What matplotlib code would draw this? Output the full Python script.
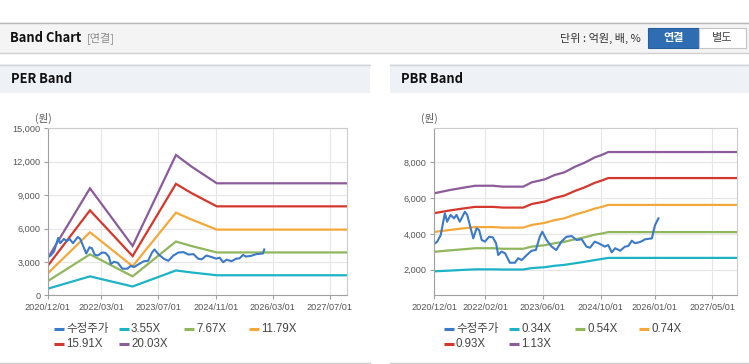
import matplotlib
matplotlib.use("Agg")
import matplotlib.pyplot as plt
import matplotlib.dates as mdates
from matplotlib.patches import Rectangle
from matplotlib.lines import Line2D
from matplotlib.ticker import FuncFormatter
import pandas as pd

plt.rcParams['font.family'] = ['Liberation Sans', 'Noto Sans CJK KR']

W, H = 749, 364

# adjusted share price (same series on both charts)
price_dates = ['2020-12-01', '2020-12-26', '2021-01-24', '2021-02-28', '2021-03-19', '2021-04-17',
               '2021-05-15', '2021-06-06', '2021-07-04', '2021-08-15', '2021-09-04', '2021-09-26',
               '2021-10-25', '2021-11-22', '2021-12-13', '2022-01-04', '2022-01-31', '2022-03-08',
               '2022-04-07', '2022-05-05', '2022-05-23', '2022-06-20', '2022-07-20', '2022-08-29',
               '2022-10-11', '2022-11-07', '2022-12-07', '2023-01-19', '2023-02-28', '2023-04-05',
               '2023-05-08', '2023-05-29', '2023-07-04', '2023-08-16', '2023-09-24', '2023-11-06',
               '2023-12-19', '2024-01-31', '2024-03-13', '2024-04-25', '2024-06-04', '2024-07-04',
               '2024-08-13', '2024-09-25', '2024-11-06', '2024-12-04', '2025-01-03', '2025-02-01',
               '2025-03-15', '2025-04-24', '2025-05-22', '2025-06-21', '2025-07-18', '2025-08-31',
               '2025-10-12', '2025-12-07', '2025-12-19', '2026-01-03', '2026-01-31']
price = [3440, 3570, 3940, 5150, 4680, 5060, 4870, 5060, 4680, 5240, 5060, 4500,
         3750, 4310, 4220, 3660, 3570, 3840, 3810, 3480, 2820, 3010, 2920, 2390,
         2390, 2640, 2540, 2820, 3060, 3100, 3840, 4120, 3660, 3290, 3100, 3570,
         3840, 3880, 3660, 3700, 3290, 3230, 3570, 3440, 3290, 3380, 2970, 3200,
         3060, 3290, 3320, 3620, 3480, 3550, 3700, 3750, 4120, 4500, 4870]
per_price_count = 57

# PER band
per_dates = ['2020-12-01', '2021-11-26', '2022-11-24', '2023-11-28', '2024-04-10', '2024-11-10', '2027-11-26']
per_labels = ['3.55X', '7.67X', '11.79X', '15.91X', '20.03X']
per_355 = [590, 1700, 790, 2230, 2050, 1800, 1800]
per_767 = [1270, 3680, 1700, 4830, 4420, 3850, 3850]
per_1179 = [1960, 5660, 2610, 7420, 6800, 5900, 5900]
per_1591 = [2640, 7630, 3520, 10010, 9170, 7990, 7990]
per_2003 = [3320, 9610, 4430, 12600, 11550, 10060, 10060]
per_ticks = ['2020-12-01', '2022-03-01', '2023-07-01', '2024-11-01', '2026-03-01', '2027-07-01']

# PBR band
pbr_dates = ['2020-12-01', '2021-04-10', '2021-08-01', '2021-11-10', '2022-04-10', '2022-07-01',
             '2022-12-20', '2023-03-01', '2023-06-20', '2023-09-10', '2023-12-01', '2024-02-28',
             '2024-05-20', '2024-08-15', '2024-10-10', '2024-12-05', '2027-11-26']
pbr_labels = ['0.34X', '0.54X', '0.74X', '0.93X', '1.13X']
pbr_034 = [1910, 1950, 1990, 2020, 2020, 2010, 2010, 2090, 2140, 2220, 2270, 2360, 2440, 2540, 2600, 2660, 2660]
pbr_054 = [3000, 3080, 3140, 3200, 3200, 3170, 3170, 3290, 3370, 3480, 3560, 3700, 3810, 3960, 4020, 4100, 4100]
pbr_074 = [4110, 4220, 4310, 4380, 4380, 4350, 4350, 4500, 4620, 4770, 4870, 5080, 5230, 5420, 5510, 5620, 5620]
pbr_093 = [5160, 5310, 5420, 5510, 5510, 5470, 5470, 5670, 5810, 6010, 6140, 6400, 6600, 6860, 6980, 7120, 7120]
pbr_113 = [6270, 6450, 6580, 6690, 6690, 6640, 6640, 6880, 7050, 7290, 7440, 7750, 7980, 8280, 8410, 8575, 8575]
pbr_ticks = ['2020-12-01', '2022-02-01', '2023-06-01', '2024-10-01', '2026-01-01', '2027-05-01']

price_color = '#3b79c9'
band_colors = ['#1db3c7', '#90b75c', '#f5a83a', '#d6372c', '#8c5b9a']
x_start, x_end = pd.Timestamp('2020-12-01'), pd.Timestamp('2027-11-26')


def fx(x):
    return x / W


def fy(y):
    return 1 - y / H


def rect(fig, x0, y0, x1, y1, **kw):
    fig.add_artist(Rectangle((fx(x0), fy(y1)), (x1 - x0) / W, (y1 - y0) / H,
                             transform=fig.transFigure, **kw))


def hline(fig, x0, x1, y, color, lw=1.0):
    fig.add_artist(Line2D([fx(x0), fx(x1)], [fy(y), fy(y)], transform=fig.transFigure, color=color, lw=lw))


fig = plt.figure(figsize=(W / 100, H / 100), dpi=100)
fig.patch.set_facecolor('white')

# top header
rect(fig, 0, 22, W, 53, facecolor='#f4f4f4', edgecolor='none')
hline(fig, 0, W, 22.5, '#b8b8b8')
hline(fig, 0, W, 53, '#d0d0d0')
fig.text(fx(10), fy(38), 'Band Chart', fontsize=9.3, fontweight='bold', color='#111111',
         family=['Noto Sans CJK KR'], va='center')
fig.text(fx(87), fy(38), '[연결]', fontsize=8, color='#8a8a8a', family=['Noto Sans CJK KR'], va='center')
fig.text(fx(641), fy(38), '단위 : 억원, 배, %', fontsize=8, color='#333333',
         family=['Noto Sans CJK KR'], va='center', ha='right')
rect(fig, 648, 28, 699, 48, facecolor='#2f6db3', edgecolor='#285f9e', lw=0.8)
fig.text(fx(673.5), fy(38), '연결', fontsize=8, color='white', fontweight='bold',
         family=['Noto Sans CJK KR'], va='center', ha='center')
rect(fig, 699, 28, 746, 48, facecolor='white', edgecolor='#c4c4c4', lw=0.8)
fig.text(fx(722.5), fy(38), '별도', fontsize=8, color='#444444',
         family=['Noto Sans CJK KR'], va='center', ha='center')


def panel(fig, x0, x1, title, tx):
    rect(fig, x0, 64, x1, 93, facecolor='#eef2f7', edgecolor='none')
    hline(fig, x0, x1, 64.5, '#d4d4d4')
    hline(fig, x0, x1, 363, '#cfcfcf')
    fig.text(fx(tx), fy(79), title, fontsize=9.3, fontweight='bold', color='#111111',
             family=['Noto Sans CJK KR'], va='center')


panel(fig, 0, 370, 'PER Band', 11)
panel(fig, 390, W, 'PBR Band', 401)


def band_axes(left, right, dates, bands, ticks, ylim, yticks, n_price, unit_x):
    ax = fig.add_axes([fx(left), fy(295.3), (right - left) / W, (295.3 - 128.3) / H])
    ax.set_facecolor('white')
    d = pd.to_datetime(dates)
    for vals, c in zip(bands, band_colors):
        ax.plot(d, vals, color=c, lw=1.6, solid_joinstyle='miter')
    ax.plot(pd.to_datetime(price_dates[:n_price]), price[:n_price], color=price_color, lw=1.5)
    ax.set_xlim(x_start, x_end)
    ax.set_ylim(*ylim)
    ax.set_yticks(yticks)
    ax.yaxis.set_major_formatter(FuncFormatter(lambda v, p: f'{v:,.0f}'))
    ax.set_xticks(pd.to_datetime(ticks))
    ax.xaxis.set_major_formatter(mdates.DateFormatter('%Y/%m/%d'))
    ax.grid(True, color='#e6e6e6', lw=0.8)
    ax.set_axisbelow(True)
    for s in ['left', 'bottom']:
        ax.spines[s].set_color('#a0a0a0')
    for s in ['top', 'right']:
        ax.spines[s].set_color('#cccccc')
    ax.tick_params(axis='both', length=2.9, color='#a0a0a0', labelcolor='#555555', labelsize=6.6)
    ax.tick_params(axis='y', pad=2.4)
    ax.tick_params(axis='x', pad=2.8)
    fig.text(fx(unit_x), fy(118), '(원)', fontsize=7.6, color='#555555', ha='center', va='center',
             family=['Noto Sans CJK KR'])
    return ax


band_axes(47.7, 347.3, per_dates, [per_355, per_767, per_1179, per_1591, per_2003], per_ticks,
          (0, 15000), [0, 3000, 6000, 9000, 12000, 15000], per_price_count, 43)
band_axes(434.3, 737.3, pbr_dates, [pbr_034, pbr_054, pbr_074, pbr_093, pbr_113], pbr_ticks,
          (570, 9900), [2000, 4000, 6000, 8000], len(price), 429)


def legend(labels, xs):
    names = ['수정주가'] + labels
    colors = [price_color] + band_colors
    for i, (name, c) in enumerate(zip(names, colors)):
        tx = xs[i % 4]
        y = 329 if i < 4 else 344
        fig.add_artist(Line2D([fx(tx - 12), fx(tx - 2)], [fy(y), fy(y)], transform=fig.transFigure,
                              color=c, lw=2.2, solid_capstyle='butt'))
        fig.text(fx(tx), fy(y), name, fontsize=8.3, color='#444444', va='center', ha='left')


legend(per_labels, [66, 131, 196, 261])
legend(pbr_labels, [456, 521, 587, 651])

fig.savefig('out.png', dpi=100, facecolor=fig.get_facecolor())
